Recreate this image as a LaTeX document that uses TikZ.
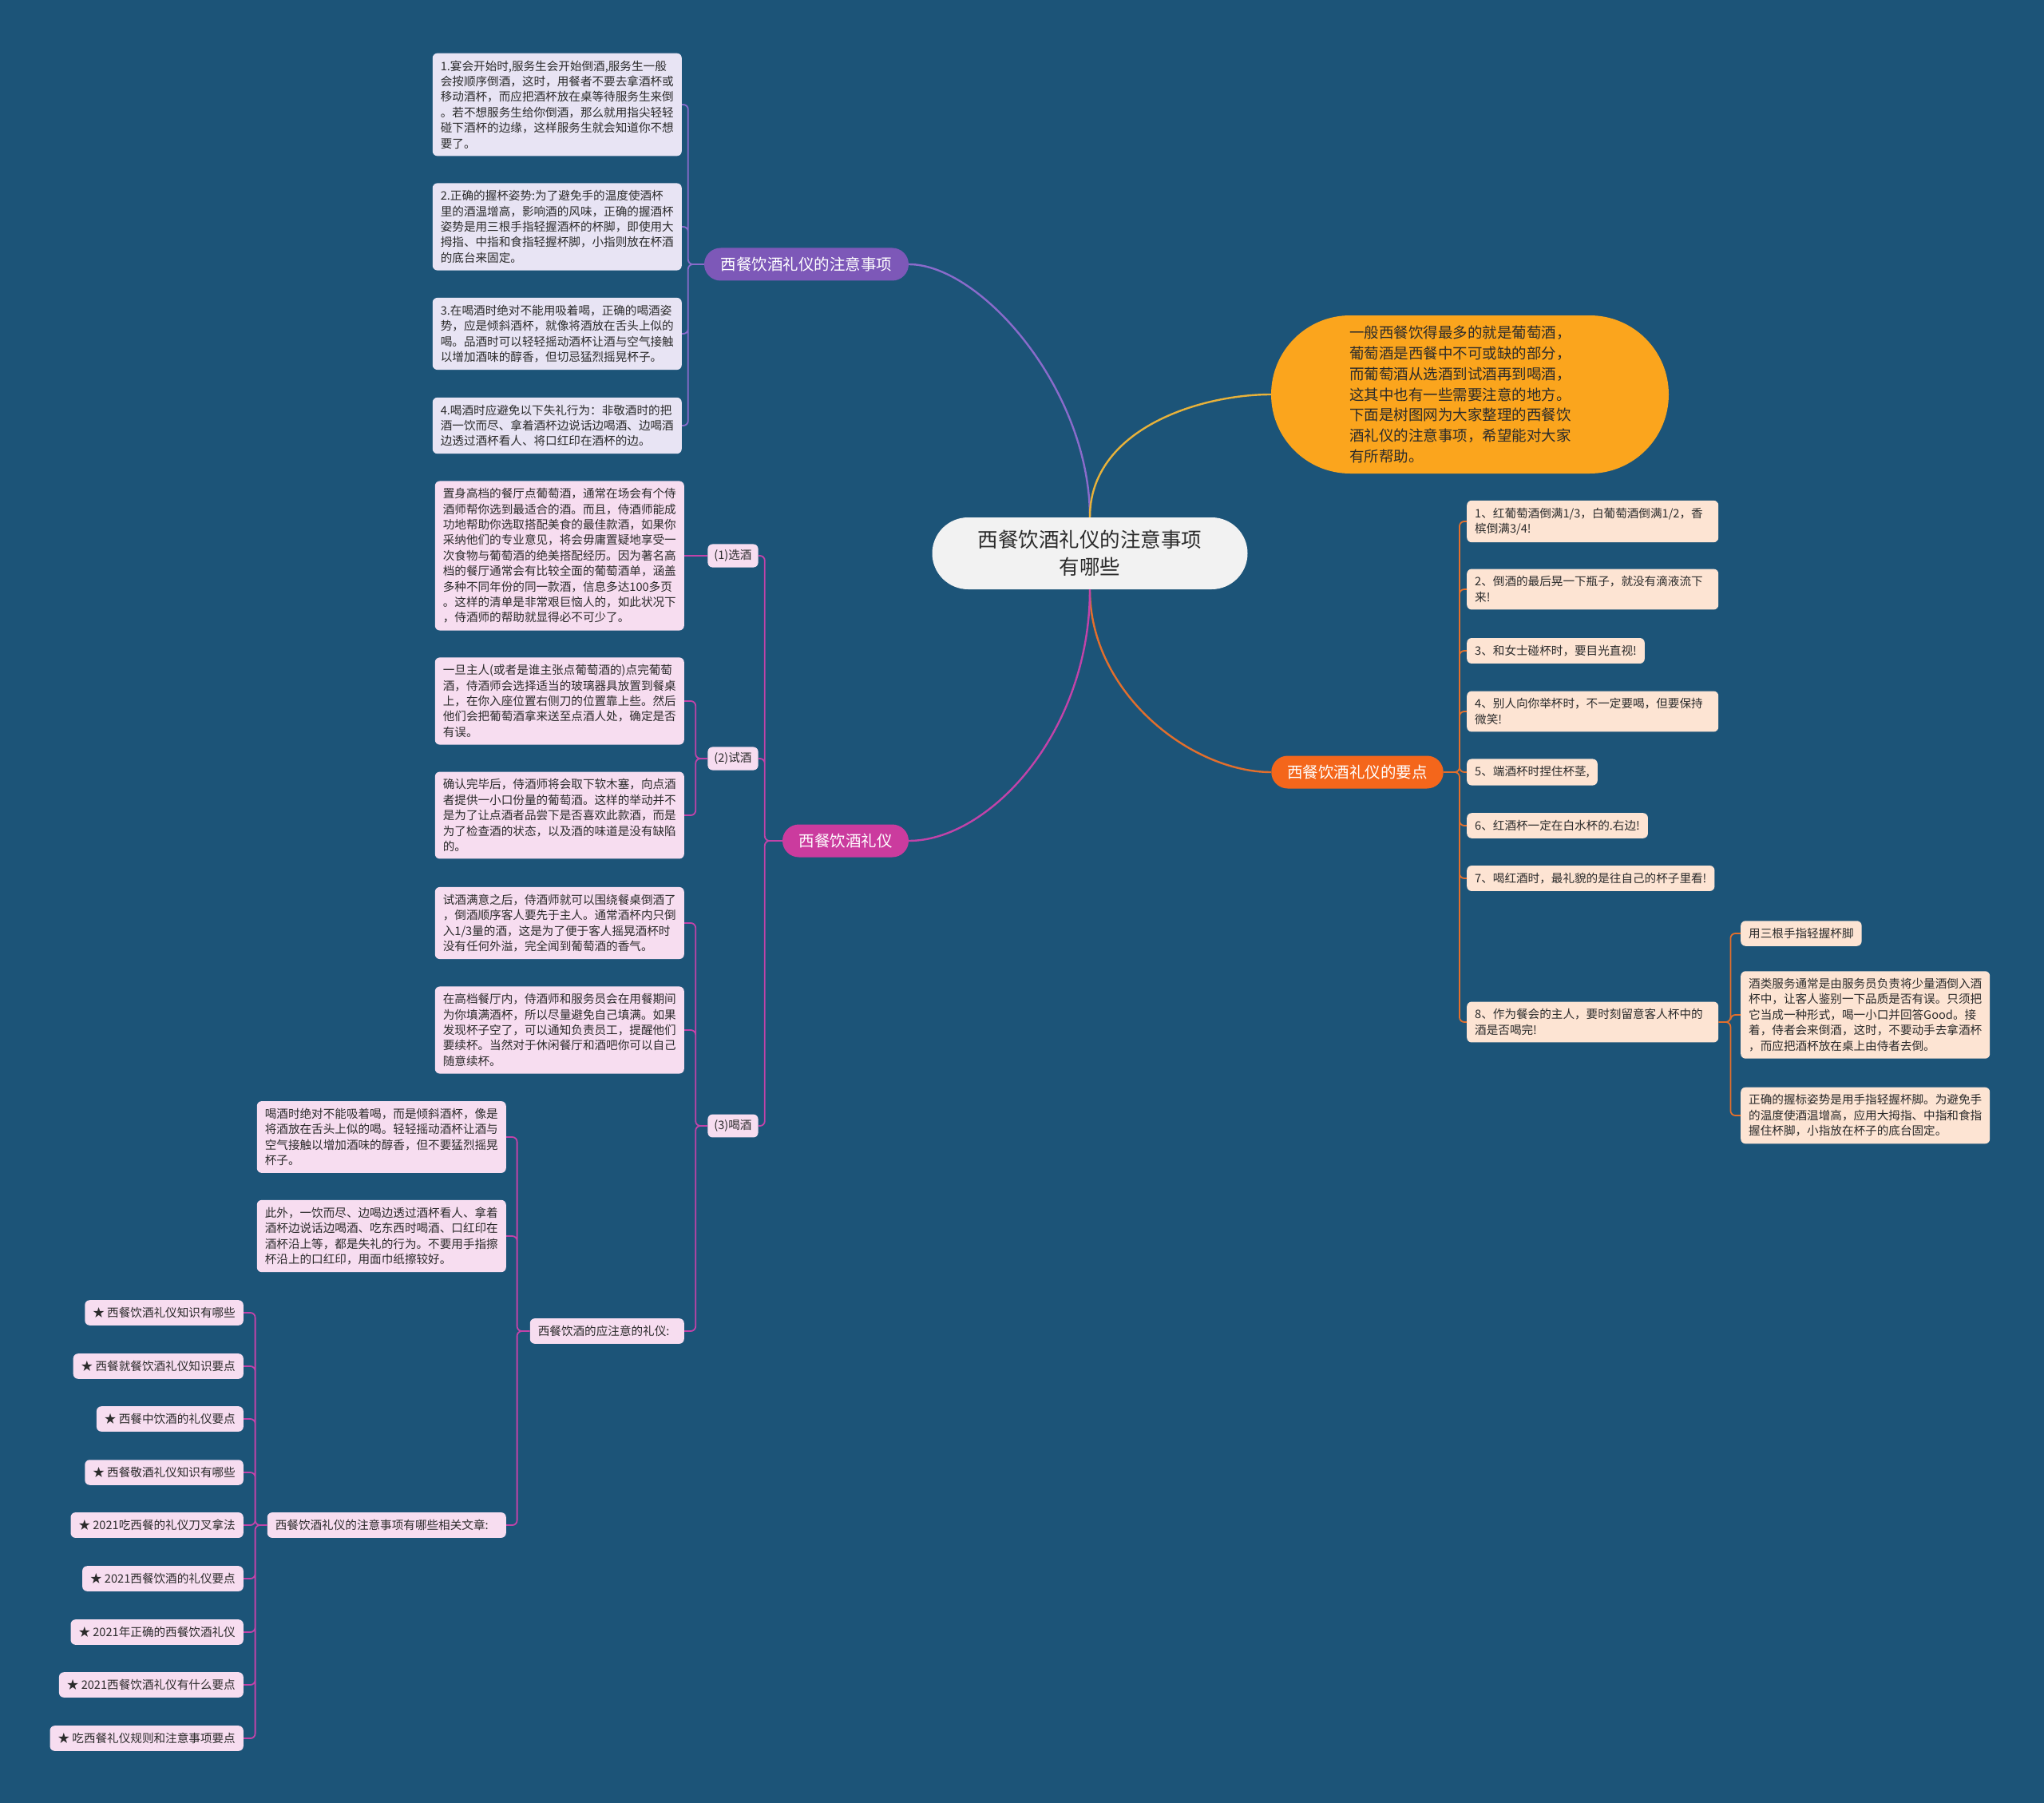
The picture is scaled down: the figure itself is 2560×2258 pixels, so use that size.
\documentclass[tikz,border=0pt]{standalone}
\usepackage{fontspec}
\setmainfont{Noto Sans CJK SC}
\usetikzlibrary{positioning}
\definecolor{mBg}{HTML}{1C5478}
\definecolor{mInk}{HTML}{2B2B2B}
\definecolor{mCore}{HTML}{F2F2F2}
\definecolor{mPurple}{HTML}{7D58B8}
\definecolor{mPurpleLine}{HTML}{8A6BCB}
\definecolor{mPurpleLeaf}{HTML}{E8E4F4}
\definecolor{mGold}{HTML}{FBA51D}
\definecolor{mGoldLine}{HTML}{E8B23A}
\definecolor{mOrange}{HTML}{F4661B}
\definecolor{mOrangeLine}{HTML}{E36F2C}
\definecolor{mOrangeLeaf}{HTML}{FDE4D3}
\definecolor{mMagenta}{HTML}{CB3B9E}
\definecolor{mMagentaLine}{HTML}{C243A9}
\definecolor{mMagentaLeaf}{HTML}{F7DDF0}

\begin{document}
\begin{tikzpicture}[
  x=1pt, y=-1pt,
  every node/.style={text=mInk},
  leaf/.style={rounded corners=6pt, inner xsep=10pt, inner ysep=9pt, align=left,
               font=\fontsize{14.6}{19.4}\selectfont},
  pleaf/.style={leaf, fill=mPurpleLeaf},
  mleaf/.style={leaf, fill=mMagentaLeaf},
  oleaf/.style={leaf, fill=mOrangeLeaf},
  tag/.style={mleaf, inner xsep=8pt, inner ysep=7pt},
  branch/.style={rounded corners=20.5pt, minimum height=41pt, inner xsep=20pt,
                 text=white, font=\fontsize{19.5}{24}\selectfont},
  mainlink/.style={line width=2.4pt},
  sublink/.style={line width=1.8pt, rounded corners=6pt},
]
  \fill[mBg] (0,0) rectangle (2560,2258);

  % Core topic
  \node[fill=mCore, rounded corners=45pt, minimum width=395pt, minimum height=90pt,
        align=center, font=\fontsize{25.5}{34}\selectfont] (c) at (1365,693)
    {西餐饮酒礼仪的注意事项\\有哪些};

  % Main branches
  \node[branch, fill=mPurple, minimum width=256pt] (b1) at (1010,331) {西餐饮酒礼仪的注意事项};
  \node[fill=mGold, rounded corners=99pt, minimum width=498pt, minimum height=198pt,
        text width=302pt, align=left, font=\fontsize{18.5}{25.8}\selectfont] (b2) at (1841,494)
    {一般西餐饮得最多的就是葡萄酒，\\葡萄酒是西餐中不可或缺的部分，\\而葡萄酒从选酒到试酒再到喝酒，\\这其中也有一些需要注意的地方。\\下面是树图网为大家整理的西餐饮\\酒礼仪的注意事项，希望能对大家\\有所帮助。};
  \node[branch, fill=mOrange, minimum width=215pt] (b3) at (1700,967) {西餐饮酒礼仪的要点};
  \node[branch, fill=mMagenta, minimum width=158pt] (b4) at (1059,1053) {西餐饮酒礼仪};

  \draw[mainlink, mPurpleLine] (c.north) .. controls +(0,-160) and +(90,0) .. (b1.east);
  \draw[mainlink, mGoldLine] (c.north) .. controls +(0,-110) and +(-90,0) .. (b2.west);
  \draw[mainlink, mOrangeLine] (c.south) .. controls +(0,130) and +(-100,0) .. (b3.west);
  \draw[mainlink, mMagentaLine] (c.south) .. controls +(0,180) and +(100,0) .. (b4.east);

  % Notes of the purple branch
  \node[pleaf, anchor=east] (p1) at (854,131)
    {1.宴会开始时,服务生会开始倒酒,服务生一般\\会按顺序倒酒，这时，用餐者不要去拿酒杯或\\移动酒杯，而应把酒杯放在桌等待服务生来倒\\。若不想服务生给你倒酒，那么就用指尖轻轻\\碰下酒杯的边缘，这样服务生就会知道你不想\\要了。};
  \node[pleaf, anchor=east] (p2) at (854,284)
    {2.正确的握杯姿势:为了避免手的温度使酒杯\\里的酒温增高，影响酒的风味，正确的握酒杯\\姿势是用三根手指轻握酒杯的杯脚，即使用大\\拇指、中指和食指轻握杯脚，小指则放在杯酒\\的底台来固定。};
  \node[pleaf, anchor=east] (p3) at (854,418)
    {3.在喝酒时绝对不能用吸着喝，正确的喝酒姿\\势，应是倾斜酒杯，就像将酒放在舌头上似的\\喝。品酒时可以轻轻摇动酒杯让酒与空气接触\\以增加酒味的醇香，但切忌猛烈摇晃杯子。};
  \node[pleaf, anchor=east] (p4) at (854,533)
    {4.喝酒时应避免以下失礼行为：非敬酒时的把\\酒一饮而尽、拿着酒杯边说话边喝酒、边喝酒\\边透过酒杯看人、将口红印在酒杯的边。};

  \draw[sublink, mPurpleLine] (b1.west) -- ++(-20,0) |- (p1.east)
                              (b1.west) -- ++(-20,0) |- (p2.east)
                              (b1.west) -- ++(-20,0) |- (p3.east)
                              (b1.west) -- ++(-20,0) |- (p4.east);

  % Magenta branch: steps
  \node[tag] (s1) at (918,696) {(1)选酒};
  \node[tag] (s2) at (918,950) {(2)试酒};
  \node[tag] (s3) at (918,1410) {(3)喝酒};

  \node[mleaf, anchor=east] (x1) at (857,696)
    {置身高档的餐厅点葡萄酒，通常在场会有个侍\\酒师帮你选到最适合的酒。而且，侍酒师能成\\功地帮助你选取搭配美食的最佳款酒，如果你\\采纳他们的专业意见，将会毋庸置疑地享受一\\次食物与葡萄酒的绝美搭配经历。因为著名高\\档的餐厅通常会有比较全面的葡萄酒单，涵盖\\多种不同年份的同一款酒，信息多达100多页\\。这样的清单是非常艰巨恼人的，如此状况下\\，侍酒师的帮助就显得必不可少了。};
  \node[mleaf, anchor=east] (x2a) at (857,878)
    {一旦主人(或者是谁主张点葡萄酒的)点完葡萄\\酒，侍酒师会选择适当的玻璃器具放置到餐桌\\上，在你入座位置右侧刀的位置靠上些。然后\\他们会把葡萄酒拿来送至点酒人处，确定是否\\有误。};
  \node[mleaf, anchor=east] (x2b) at (857,1021)
    {确认完毕后，侍酒师将会取下软木塞，向点酒\\者提供一小口份量的葡萄酒。这样的举动并不\\是为了让点酒者品尝下是否喜欢此款酒，而是\\为了检查酒的状态，以及酒的味道是没有缺陷\\的。};
  \node[mleaf, anchor=east] (x3a) at (857,1156)
    {试酒满意之后，侍酒师就可以围绕餐桌倒酒了\\，倒酒顺序客人要先于主人。通常酒杯内只倒\\入1/3量的酒，这是为了便于客人摇晃酒杯时\\没有任何外溢，完全闻到葡萄酒的香气。};
  \node[mleaf, anchor=east] (x3b) at (857,1290)
    {在高档餐厅内，侍酒师和服务员会在用餐期间\\为你填满酒杯，所以尽量避免自己填满。如果\\发现杯子空了，可以通知负责员工，提醒他们\\要续杯。当然对于休闲餐厅和酒吧你可以自己\\随意续杯。};
  \node[mleaf, anchor=east, text width=173pt] (x3c) at (857,1667) {西餐饮酒的应注意的礼仪:};

  \node[mleaf, anchor=east] (d1) at (634,1424)
    {喝酒时绝对不能吸着喝，而是倾斜酒杯，像是\\将酒放在舌头上似的喝。轻轻摇动酒杯让酒与\\空气接触以增加酒味的醇香，但不要猛烈摇晃\\杯子。};
  \node[mleaf, anchor=east] (d2) at (634,1548)
    {此外，一饮而尽、边喝边透过酒杯看人、拿着\\酒杯边说话边喝酒、吃东西时喝酒、口红印在\\酒杯沿上等，都是失礼的行为。不要用手指擦\\杯沿上的口红印，用面巾纸擦较好。};
  \node[mleaf, anchor=east, text width=279pt] (d3) at (634,1910) {西餐饮酒礼仪的注意事项有哪些相关文章:};

  % Related articles
  \node[mleaf, anchor=east] (a1) at (305,1644) {★ 西餐饮酒礼仪知识有哪些};
  \node[mleaf, anchor=east] (a2) at (305,1711) {★ 西餐就餐饮酒礼仪知识要点};
  \node[mleaf, anchor=east] (a3) at (305,1777) {★ 西餐中饮酒的礼仪要点};
  \node[mleaf, anchor=east] (a4) at (305,1844) {★ 西餐敬酒礼仪知识有哪些};
  \node[mleaf, anchor=east] (a5) at (305,1910) {★ 2021吃西餐的礼仪刀叉拿法};
  \node[mleaf, anchor=east] (a6) at (305,1977) {★ 2021西餐饮酒的礼仪要点};
  \node[mleaf, anchor=east] (a7) at (305,2044) {★ 2021年正确的西餐饮酒礼仪};
  \node[mleaf, anchor=east] (a8) at (305,2110) {★ 2021西餐饮酒礼仪有什么要点};
  \node[mleaf, anchor=east] (a9) at (305,2177) {★ 吃西餐礼仪规则和注意事项要点};

  \draw[sublink, mMagentaLine] (b4.west) -- ++(-22,0) |- (s1.east)
                               (b4.west) -- ++(-22,0) |- (s2.east)
                               (b4.west) -- ++(-22,0) |- (s3.east);
  \draw[sublink, mMagentaLine] (s1.west) -- (x1.east);
  \draw[sublink, mMagentaLine] (s2.west) -- ++(-15,0) |- (x2a.east)
                               (s2.west) -- ++(-15,0) |- (x2b.east);
  \draw[sublink, mMagentaLine] (s3.west) -- ++(-15,0) |- (x3a.east)
                               (s3.west) -- ++(-15,0) |- (x3b.east)
                               (s3.west) -- ++(-15,0) |- (x3c.east);
  \draw[sublink, mMagentaLine] (x3c.west) -- ++(-16,0) |- (d1.east)
                               (x3c.west) -- ++(-16,0) |- (d2.east)
                               (x3c.west) -- ++(-16,0) |- (d3.east);
  \draw[sublink, mMagentaLine] (d3.west) -- ++(-15,0) |- (a1.east)
                               (d3.west) -- ++(-15,0) |- (a2.east)
                               (d3.west) -- ++(-15,0) |- (a3.east)
                               (d3.west) -- ++(-15,0) |- (a4.east)
                               (d3.west) -- ++(-15,0) |- (a5.east)
                               (d3.west) -- ++(-15,0) |- (a6.east)
                               (d3.west) -- ++(-15,0) |- (a7.east)
                               (d3.west) -- ++(-15,0) |- (a8.east)
                               (d3.west) -- ++(-15,0) |- (a9.east);

  % Key points of the orange branch
  \node[oleaf, anchor=west, text width=295pt] (r1) at (1837,653) {1、红葡萄酒倒满1/3，白葡萄酒倒满1/2，香\\槟倒满3/4!};
  \node[oleaf, anchor=west, text width=295pt] (r2) at (1837,738) {2、倒酒的最后晃一下瓶子，就没有滴液流下\\来!};
  \node[oleaf, anchor=west] (r3) at (1837,815) {3、和女士碰杯时，要目光直视!};
  \node[oleaf, anchor=west, text width=295pt] (r4) at (1837,891) {4、别人向你举杯时，不一定要喝，但要保持\\微笑!};
  \node[oleaf, anchor=west] (r5) at (1837,967) {5、端酒杯时捏住杯茎,};
  \node[oleaf, anchor=west] (r6) at (1837,1034) {6、红酒杯一定在白水杯的.右边!};
  \node[oleaf, anchor=west] (r7) at (1837,1100) {7、喝红酒时，最礼貌的是往自己的杯子里看!};
  \node[oleaf, anchor=west, text width=295pt] (r8) at (1837,1280) {8、作为餐会的主人，要时刻留意客人杯中的\\酒是否喝完!};

  \node[oleaf, anchor=west] (q1) at (2180,1169) {用三根手指轻握杯脚};
  \node[oleaf, anchor=west] (q2) at (2180,1271)
    {酒类服务通常是由服务员负责将少量酒倒入酒\\杯中，让客人鉴别一下品质是否有误。只须把\\它当成一种形式，喝一小口并回答Good。接\\着，侍者会来倒酒，这时，不要动手去拿酒杯\\，而应把酒杯放在桌上由侍者去倒。};
  \node[oleaf, anchor=west] (q3) at (2180,1397)
    {正确的握标姿势是用手指轻握杯脚。为避免手\\的温度使酒温增高，应用大拇指、中指和食指\\握住杯脚，小指放在杯子的底台固定。};

  \draw[sublink, mOrangeLine] (b3.east) -- ++(20,0) |- (r1.west)
                              (b3.east) -- ++(20,0) |- (r2.west)
                              (b3.east) -- ++(20,0) |- (r3.west)
                              (b3.east) -- ++(20,0) |- (r4.west)
                              (b3.east) -- ++(20,0) |- (r5.west)
                              (b3.east) -- ++(20,0) |- (r6.west)
                              (b3.east) -- ++(20,0) |- (r7.west)
                              (b3.east) -- ++(20,0) |- (r8.west);
  \draw[sublink, mOrangeLine] (r8.east) -- ++(15,0) |- (q1.west)
                              (r8.east) -- ++(15,0) |- (q2.west)
                              (r8.east) -- ++(15,0) |- (q3.west);
\end{tikzpicture}
\end{document}
